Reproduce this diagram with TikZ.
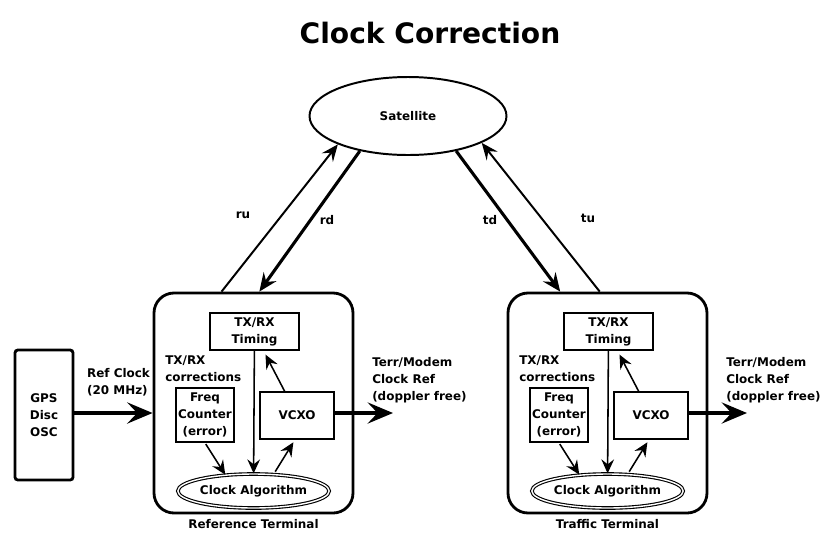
\documentclass[tikz,border=0pt]{standalone}
\usepackage{fontspec}
\setmainfont{DejaVu Sans}
\usetikzlibrary{arrows.meta, positioning, calc, shapes.geometric}

\tikzset{
  lbl/.style={font=\fontsize{8.5}{12}\selectfont\bfseries, align=left, inner sep=0pt},
  term/.style={draw, line width=2pt, rounded corners=0.5cm,
               minimum width=4.975cm, minimum height=5.5cm},
  blockbox/.style={draw, line width=1.2pt, align=center, inner sep=0pt, lbl, align=center},
  sig/.style={line width=1.1pt, -{Stealth[length=10pt,width=9pt,inset=3.5pt]}},
  link/.style={line width=1.4pt, -{Stealth[length=12pt,width=10pt,inset=4.5pt]}},
  boldlink/.style={line width=2.2pt, -{Stealth[length=13pt,width=11pt,inset=4.5pt]}},
  feed/.style={line width=3.4pt, -{Stealth[length=18pt,width=15pt,inset=7pt]}}
}

\begin{document}
\begin{tikzpicture}
    \useasboundingbox (0,0) rectangle (20.5,-13.325);

    % Title
    \node[font=\fontsize{20}{24}\selectfont\bfseries] (title) at (10.75,-0.825) {Clock Correction};

    % Satellite
    \node[draw, ellipse, line width=1.4pt, minimum width=4.925cm, minimum height=1.95cm,
          inner sep=0pt, lbl] (sat) at (10.2,-2.9) {Satellite};

    % Both terminals
    \foreach \name/\dx/\title in {ref/0/Reference Terminal, trf/8.85/Traffic Terminal} {
        \node[term] (\name) at (6.3375+\dx,-10.075) {};
        \node[lbl, below=0.12cm of \name] (\name-cap) {\title};

        \node[blockbox, minimum width=2.225cm, minimum height=0.925cm]
            (\name-tim) at (6.3625+\dx,-8.2875) {TX/RX\\Timing};
        \node[blockbox, minimum width=1.45cm, minimum height=1.35cm]
            (\name-frq) at (5.125+\dx,-10.375) {Freq\\Counter\\(error)};
        \node[blockbox, minimum width=1.85cm, minimum height=1.175cm]
            (\name-vco) at (7.425+\dx,-10.3875) {VCXO};
        \node[draw, ellipse, double, double distance=1pt, line width=0.8pt,
              minimum width=3.425cm, minimum height=0.85cm, inner sep=0pt, lbl]
            (\name-alg) at (6.3375+\dx,-12.275) {Clock Algorithm};

        \node[lbl, anchor=west] (\name-cor) at (4.125+\dx,-9.2125) {TX/RX\\corrections};

        % Inner signal paths
        \draw[sig] (\name-tim) -- (\name-alg);
        \draw[sig, shorten >=3pt] (\name-vco.117) -- (\name-tim.-65);
        \draw[sig, shorten <=1pt] (\name-frq.south) -- (\name-alg.150);
        \draw[sig, shorten <=2pt, shorten >=2pt] (\name-alg.40) -- (\name-vco.-95);

        % Clock output
        \coordinate (\name-out) at (9.825+\dx,-10.325);
        \draw[feed] (\name-vco.east |- \name-out) -- (\name-out);
        \node[lbl, anchor=west] (\name-trm) at (9.3+\dx,-9.5) {Terr/Modem\\Clock Ref\\(doppler free)};
    }

    % GPS reference oscillator
    \node[draw, line width=2pt, rounded corners=2pt, minimum width=1.45cm,
          minimum height=3.25cm, lbl, align=center] (gps) at (1.1,-10.375) {GPS\\Disc\\OSC};
    \draw[feed] (gps.east |- ref-out) -- (ref.west |- ref-out);
    \node[lbl] (refclk) at (2.9625,-9.55) {Ref Clock\\(20 MHz)};

    % Satellite links
    \draw[link] (ref.106) -- (sat.202);
    \draw[boldlink] (sat.216) -- (ref.87);
    \draw[boldlink] (sat.-36) -- (trf.113);
    \draw[link] (trf.94) -- (sat.-20);

    \node[lbl] (ru) at (6.075,-5.375) {ru};
    \node[lbl] (rd) at (8.175,-5.5) {rd};
    \node[lbl] (td) at (12.25,-5.5) {td};
    \node[lbl] (tu) at (14.7,-5.45) {tu};
\end{tikzpicture}
\end{document}
